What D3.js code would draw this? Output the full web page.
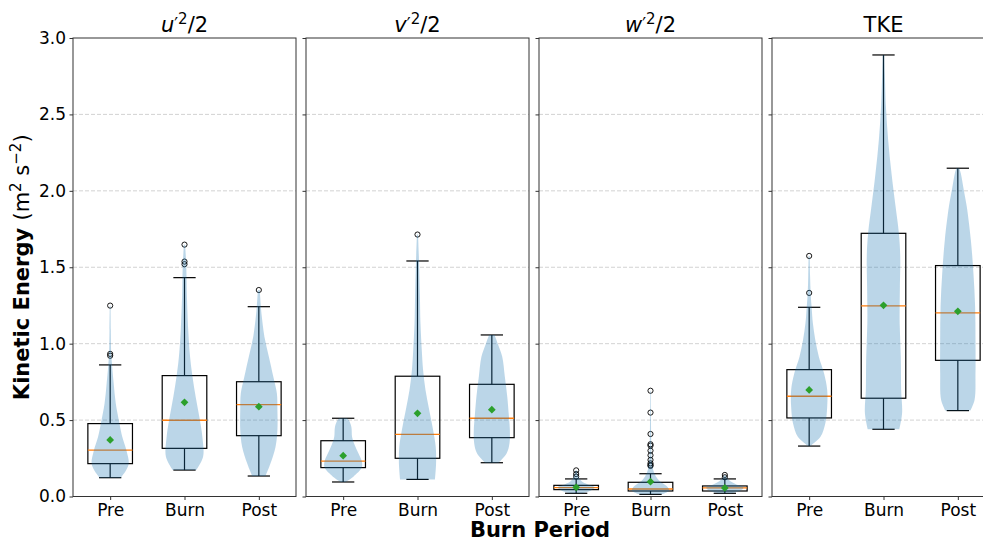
<!DOCTYPE html>
<html>
<head>
<meta charset="utf-8">
<script src="https://cdn.jsdelivr.net/npm/d3@7"></script>
<style>
  body { margin: 0; background: #fff; }
  text { font-family: "DejaVu Sans", sans-serif; fill: #000; }
</style>
</head>
<body>
<script>
'use strict';

// ---- data ----
const periods = ["Pre", "Burn", "Post"];
const titleSymbols = ["u", "v", "w", "TKE"];
const yTicks = [0, 0.5, 1.0, 1.5, 2.0, 2.5, 3.0];
const gridTicks = [0.5, 1.0, 1.5, 2.0, 2.5];

// box stats: one row per panel (u, v, w, TKE), one value per period
const whiskerLow  = [[0.123, 0.173, 0.134], [0.095, 0.112, 0.221], [0.021, 0.014, 0.021], [0.330, 0.440, 0.562]];
const q1          = [[0.215, 0.315, 0.398], [0.189, 0.250, 0.385], [0.045, 0.036, 0.036], [0.514, 0.643, 0.891]];
const medians     = [[0.304, 0.499, 0.601], [0.232, 0.407, 0.512], [0.058, 0.049, 0.056], [0.656, 1.247, 1.201]];
const q3          = [[0.477, 0.791, 0.751], [0.365, 0.787, 0.734], [0.073, 0.093, 0.069], [0.830, 1.722, 1.511]];
const whiskerHigh = [[0.861, 1.432, 1.242], [0.512, 1.541, 1.057], [0.115, 0.149, 0.115], [1.238, 2.889, 2.148]];
const means       = [[0.370, 0.616, 0.588], [0.267, 0.544, 0.568], [0.060, 0.097, 0.056], [0.697, 1.251, 1.212]];

const outliers = [
  [[1.249, 0.933, 0.921], [1.648, 1.537, 1.520], [1.351]],
  [[], [1.714], []],
  [[0.171, 0.147, 0.130], [0.692, 0.549, 0.409, 0.342, 0.333, 0.300, 0.270, 0.239, 0.217, 0.206, 0.200], [0.141, 0.126]],
  [[1.574, 1.332], [], []]
];

// violin outlines: [value, width relative to the widest point]
const violinU = [
  [[0.123, 0.57], [0.17, 0.85], [0.217, 1.0], [0.304, 0.87], [0.391, 0.65], [0.478, 0.5], [0.61, 0.3], [0.74, 0.19], [0.861, 0.1], [0.93, 0.06], [1.09, 0.035], [1.249, 0.02]],
  [[0.173, 0.63], [0.26, 1.0], [0.391, 0.96], [0.52, 0.8], [0.653, 0.6], [0.784, 0.43], [0.915, 0.3], [1.09, 0.2], [1.31, 0.13], [1.432, 0.11], [1.526, 0.09], [1.613, 0.05], [1.648, 0.035]],
  [[0.134, 0.36], [0.217, 0.63], [0.326, 0.9], [0.435, 1.0], [0.566, 1.0], [0.675, 0.97], [0.784, 0.78], [0.915, 0.54], [1.046, 0.3], [1.177, 0.16], [1.242, 0.11], [1.351, 0.05]]
];
const violinV = [
  [[0.095, 0.12], [0.13, 0.55], [0.189, 1.0], [0.232, 1.0], [0.283, 0.82], [0.337, 0.62], [0.39, 0.48], [0.457, 0.44], [0.5, 0.3], [0.512, 0.2]],
  [[0.112, 0.94], [0.217, 1.0], [0.326, 0.98], [0.435, 0.84], [0.566, 0.63], [0.697, 0.43], [0.828, 0.3], [0.959, 0.23], [1.133, 0.16], [1.31, 0.13], [1.541, 0.08], [1.714, 0.03]],
  [[0.221, 0.36], [0.283, 0.8], [0.348, 0.95], [0.435, 0.97], [0.522, 0.92], [0.653, 0.83], [0.784, 0.7], [0.915, 0.56], [1.0, 0.32], [1.057, 0.15]]
];
const violinW = [
  [[0.021, 0.3], [0.04, 0.8], [0.06, 1.0], [0.08, 0.6], [0.1, 0.3], [0.13, 0.12], [0.171, 0.03]],
  [[0.014, 0.6], [0.04, 1.0], [0.07, 0.85], [0.1, 0.5], [0.13, 0.3], [0.16, 0.18], [0.2, 0.1], [0.25, 0.06], [0.35, 0.04], [0.5, 0.025], [0.692, 0.015]],
  [[0.021, 0.3], [0.04, 0.85], [0.058, 1.0], [0.08, 0.6], [0.1, 0.3], [0.12, 0.12], [0.141, 0.03]]
];
const violinTKE = [
  [[0.33, 0.05], [0.391, 0.61], [0.479, 0.87], [0.588, 0.97], [0.697, 0.97], [0.806, 0.8], [0.915, 0.52], [1.024, 0.33], [1.133, 0.2], [1.242, 0.13], [1.33, 0.08], [1.44, 0.05], [1.574, 0.03]],
  [[0.44, 0.85], [0.544, 1.0], [0.697, 0.95], [0.915, 0.93], [1.133, 0.87], [1.351, 0.88], [1.57, 0.9], [1.72, 0.83], [1.897, 0.65], [2.115, 0.43], [2.333, 0.25], [2.551, 0.13], [2.77, 0.07], [2.889, 0.04]],
  [[0.562, 0.67], [0.632, 0.9], [0.806, 0.95], [1.024, 0.95], [1.242, 0.93], [1.46, 0.84], [1.679, 0.7], [1.897, 0.48], [2.006, 0.32], [2.115, 0.16], [2.148, 0.08]]
];
const violins = [violinU, violinV, violinW, violinTKE];

(function() {
  // ---- layout ----
  const W = 983, H = 539;
  const panelLeft = 73, panelW = 223, panelGap = 10;
  const plotTop = 38, plotBottom = 496.5;

  const svg = d3.select('body').append('svg')
    .attr('width', W)
    .attr('height', H);

  const y = d3.scaleLinear().domain([0, 3]).range([plotBottom, plotTop]);
  const x = d3.scaleLinear().domain([0.5, 3.5]).range([0, panelW]);
  const boxHalf = x(1.3) - x(1);     // box widths 0.6
  const capHalf = x(1.15) - x(1);    // caps half the box
  const violinHalf = x(1.25) - x(1); // violin width 0.5

  const diamond = d3.symbol().type(d3.symbolSquare).size(30);

  titleSymbols.forEach((sym, p) => {
    const g = svg.append('g')
      .attr('transform', 'translate(' + (panelLeft + p * (panelW + panelGap)) + ',0)');

    // dashed grid
    g.selectAll('.grid')
      .data(gridTicks)
      .enter()
      .append('line')
        .attr('x1', 0).attr('x2', panelW)
        .attr('y1', d => y(d)).attr('y2', d => y(d))
        .attr('stroke', '#c8c8c8')
        .attr('stroke-width', 0.8)
        .attr('stroke-dasharray', '4,2');

    // axes
    const yAxis = d3.axisLeft(y).tickValues(yTicks).tickSize(3.5).tickPadding(3.5)
      .tickFormat(p === 0 ? d3.format('.1f') : () => '');
    const ya = g.append('g').call(yAxis);
    const xAxis = d3.axisBottom(x).tickValues([1, 2, 3]).tickSize(3.5).tickPadding(4)
      .tickFormat((d, i) => periods[i]);
    const xa = g.append('g').attr('transform', 'translate(0,' + plotBottom + ')').call(xAxis);
    [ya, xa].forEach(a => {
      a.select('.domain').remove();
      a.selectAll('line').attr('stroke', '#333');
      a.selectAll('text').style('font-size', '17px').attr('fill', '#000');
    });

    // box plots
    periods.forEach((name, i) => {
      const cx = x(i + 1);
      const lw = 1.2;
      g.append('line')
        .attr('x1', cx).attr('x2', cx)
        .attr('y1', y(whiskerLow[p][i])).attr('y2', y(q1[p][i]))
        .attr('stroke', '#000').attr('stroke-width', lw);
      g.append('line')
        .attr('x1', cx).attr('x2', cx)
        .attr('y1', y(q3[p][i])).attr('y2', y(whiskerHigh[p][i]))
        .attr('stroke', '#000').attr('stroke-width', lw);
      [whiskerLow[p][i], whiskerHigh[p][i]].forEach(v => {
        g.append('line')
          .attr('x1', cx - capHalf).attr('x2', cx + capHalf)
          .attr('y1', y(v)).attr('y2', y(v))
          .attr('stroke', '#000').attr('stroke-width', lw);
      });
      g.append('rect')
        .attr('x', cx - boxHalf)
        .attr('y', y(q3[p][i]))
        .attr('width', boxHalf * 2)
        .attr('height', y(q1[p][i]) - y(q3[p][i]))
        .attr('fill', 'none')
        .attr('stroke', '#000').attr('stroke-width', lw);
      g.append('line')
        .attr('x1', cx - boxHalf).attr('x2', cx + boxHalf)
        .attr('y1', y(medians[p][i])).attr('y2', y(medians[p][i]))
        .attr('stroke', '#ff7f0e').attr('stroke-width', 1.3);
      g.selectAll('.out' + i)
        .data(outliers[p][i])
        .enter()
        .append('circle')
          .attr('cx', cx)
          .attr('cy', d => y(d))
          .attr('r', 2.6)
          .attr('fill', 'none')
          .attr('stroke', '#000')
          .attr('stroke-width', 0.9);
    });

    // violins drawn over the boxes, semi-transparent
    periods.forEach((name, i) => {
      const cx = x(i + 1);
      const area = d3.area()
        .y(d => y(d[0]))
        .x0(d => cx - d[1] * violinHalf)
        .x1(d => cx + d[1] * violinHalf)
        .curve(d3.curveCatmullRom);
      g.append('path')
        .datum(violins[p][i])
        .attr('d', area)
        .attr('fill', '#1f77b4')
        .attr('fill-opacity', 0.3);
    });

    // means
    periods.forEach((name, i) => {
      g.append('path')
        .attr('d', diamond)
        .attr('transform', 'translate(' + x(i + 1) + ',' + y(means[p][i]) + ') rotate(45)')
        .attr('fill', '#2ca02c');
    });

    // frame
    g.append('rect')
      .attr('x', 0).attr('y', plotTop)
      .attr('width', panelW).attr('height', plotBottom - plotTop)
      .attr('fill', 'none')
      .attr('stroke', '#333')
      .attr('stroke-width', 1);

    // title
    const t = g.append('text')
      .attr('x', panelW / 2)
      .attr('y', 32)
      .attr('text-anchor', 'middle')
      .style('font-size', '21px');
    if (sym.length === 1) {
      t.append('tspan').style('font-style', 'italic').text(sym);
      t.append('tspan').attr('dy', -2).style('font-size', '17px').text('\u2032');
      t.append('tspan').attr('dy', -6).style('font-size', '15px').text('2');
      t.append('tspan').attr('dy', 8).text('/2');
    } else {
      t.text(sym);
    }
  });

  // axis labels
  const yl = svg.append('text')
    .attr('transform', 'translate(29,' + ((plotTop + plotBottom) / 2) + ') rotate(-90)')
    .attr('text-anchor', 'middle')
    .style('font-size', '21px');
  yl.append('tspan').style('font-weight', 'bold').text('Kinetic Energy ');
  yl.append('tspan').text('(m');
  yl.append('tspan').attr('dy', -8).style('font-size', '15px').text('2');
  yl.append('tspan').attr('dy', 8).text(' s');
  yl.append('tspan').attr('dy', -8).style('font-size', '15px').text('\u22122');
  yl.append('tspan').attr('dy', 8).text(')');

  svg.append('text')
    .attr('x', 540)
    .attr('y', 537)
    .attr('text-anchor', 'middle')
    .style('font-size', '21px')
    .style('font-weight', 'bold')
    .text('Burn Period');
})();
</script>
</body>
</html>
